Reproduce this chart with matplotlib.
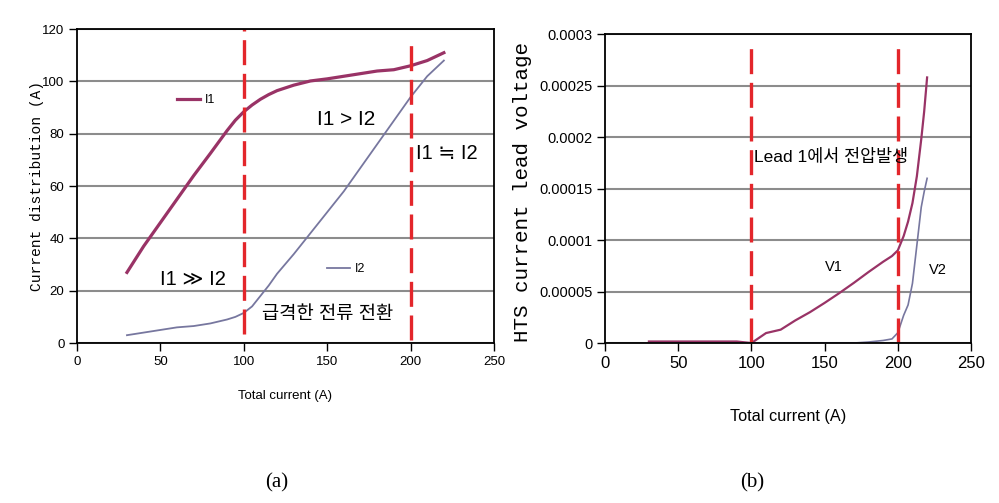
import numpy as np
import matplotlib
matplotlib.use('Agg')
import matplotlib.pyplot as plt

# (a) current distribution
xI = [30, 40, 50, 60, 70, 80, 90, 95, 100, 105, 110, 115, 120, 130, 140, 150, 160, 170, 180, 190, 200, 210, 220]
I1 = [27, 37, 46, 55, 64, 72.5, 81.2, 85.2, 88.4, 91, 93.2, 95, 96.5, 98.6, 100.2, 101, 102, 103, 104, 104.5, 106, 108, 111]
I2 = [3, 4, 5, 6, 6.5, 7.5, 9, 10, 11.5, 14, 18, 22, 26.5, 34, 42, 50, 58, 67, 76, 85, 94, 102, 108]

# (b) lead voltage
xV = [30, 50, 70, 90, 100, 110, 120, 130, 140, 150, 160, 170, 180, 190, 196, 200, 204, 207, 210, 213, 216, 218, 220]
V1 = [1.5e-6, 1.5e-6, 1.5e-6, 1.5e-6, 0, 9.7e-6, 1.3e-5, 2.2e-5, 3.0e-5, 3.9e-5, 4.85e-5, 5.85e-5, 6.9e-5, 7.9e-5,
      8.45e-5, 9.0e-5, 1.04e-4, 1.18e-4, 1.36e-4, 1.62e-4, 1.98e-4, 2.25e-4, 2.58e-4]
V2 = [0, 0, 0, 0, 0, 0, 0, 0, 0, 0, 0, 0, 1e-6, 2.5e-6,
      4e-6, 1.0e-5, 2.7e-5, 3.7e-5, 5.8e-5, 9.5e-5, 1.32e-4, 1.47e-4, 1.6e-4]

xticks = [0, 50, 100, 150, 200, 250]
yticksA = [0, 20, 40, 60, 80, 100, 120]
yticksB = [0, 0.00005, 0.0001, 0.00015, 0.0002, 0.00025, 0.0003]
yticklabelsB = ['0', '0.00005', '0.0001', '0.00015', '0.0002', '0.00025', '0.0003']
switch_points = [100, 200]

SANS = ['Liberation Sans', 'DejaVu Sans']
SANS_KR = ['Liberation Sans', 'Noto Sans CJK KR', 'DejaVu Sans']
MONO = ['Liberation Mono', 'DejaVu Sans Mono']
SERIF = ['Liberation Serif', 'DejaVu Serif']
c1 = '#993366'
c2 = '#77779f'
red = '#e3262b'
dash = (7.5, 2.6)

fig = plt.figure(figsize=(9.99, 5.03), dpi=100)
axA = fig.add_axes([0.077, 0.318, 0.4174, 0.624])
axB = fig.add_axes([0.6056, 0.318, 0.3664, 0.614])


def style_axes(ax, tick_size):
    for s in ax.spines.values():
        s.set_color('black')
        s.set_linewidth(1.3)
    ax.tick_params(direction='out', length=6, width=1, colors='black', pad=3)
    for lab in ax.get_xticklabels() + ax.get_yticklabels():
        lab.set_family(SANS)
        lab.set_fontsize(tick_size)
    ax.yaxis.grid(True, color='#8c8c8c', linewidth=1.5)
    ax.set_axisbelow(True)


# ---- panel (a)
lineI1, = axA.plot(xI, I1, color=c1, lw=2.3)
lineI2, = axA.plot(xI, I2, color=c2, lw=1.3)
axA.axvline(switch_points[0], ymin=0.03, ymax=1.0, color=red, lw=2.4, dashes=dash)
axA.axvline(switch_points[1], ymin=0.01, ymax=0.975, color=red, lw=2.4, dashes=dash)
axA.set_xlim(0, 250)
axA.set_ylim(0, 120)
axA.set_xticks(xticks)
axA.set_yticks(yticksA)
style_axes(axA, 9.5)
axA.set_xlabel('Total current (A)', family=SANS, fontsize=9.5, va='center')
axA.xaxis.set_label_coords(0.499, -0.169)
axA.set_ylabel('Current distribution (A)', family=MONO, fontsize=10.5, va='center')
axA.yaxis.set_label_coords(-0.096, 0.5)

legA1 = axA.legend([lineI1], ['I1'], loc=(0.24, 0.755), frameon=False, handlelength=1.85,
                   handletextpad=0.4, borderpad=0, borderaxespad=0, prop={'family': SANS, 'size': 9})
axA.add_artist(legA1)
axA.legend([lineI2], ['I2'], loc=(0.6, 0.217), frameon=False, handlelength=1.85,
           handletextpad=0.4, borderpad=0, borderaxespad=0, prop={'family': SANS, 'size': 9})

axA.text(144, 85.3, 'I1 > I2', family=SANS, fontsize=15, va='center', ha='left')
axA.text(203.5, 72.5, 'I1 \u2252 I2', family=SANS, fontsize=14.5, va='center', ha='left')
axA.text(50, 24.2, 'I1 \u226b I2', family=SANS, fontsize=14.5, va='center', ha='left')
axA.text(111, 10.8, '급격한 전류 전환', family=SANS_KR, fontsize=13.5, va='center', ha='left')

# ---- panel (b)
axB.plot(xV, V1, color=c1, lw=1.6)
axB.plot(xV, V2, color=c2, lw=1.2)
axB.axvline(switch_points[0], ymin=0.0, ymax=0.975, color=red, lw=2.4, dashes=dash)
axB.axvline(switch_points[1], ymin=0.0, ymax=0.975, color=red, lw=2.4, dashes=dash)
axB.set_xlim(0, 250)
axB.set_ylim(0, 0.0003)
axB.set_xticks(xticks)
axB.set_yticks(yticksB)
axB.set_yticklabels(yticklabelsB)
style_axes(axB, 10.5)
for lab in axB.get_xticklabels():
    lab.set_fontsize(12)
axB.set_xlabel('Total current (A)', family=SANS, fontsize=11.7, va='center')
axB.xaxis.set_label_coords(0.5, -0.239)
axB.set_ylabel('HTS current lead voltage', family=MONO, fontsize=15, va='center')
axB.yaxis.set_label_coords(-0.225, 0.49)

axB.text(101.5, 1.81e-4, 'Lead 1에서 전압발생', family=SANS_KR, fontsize=12.5, va='center', ha='left')
axB.text(150.5, 7.4e-5, 'V1', family=SANS, fontsize=10.5, va='center', ha='left')
axB.text(221, 7.1e-5, 'V2', family=SANS, fontsize=10.5, va='center', ha='left')

# captions
fig.text(0.277, 0.04, '(a)', family=SERIF, fontsize=15, ha='center', va='center')
fig.text(0.753, 0.04, '(b)', family=SERIF, fontsize=15, ha='center', va='center')

fig.savefig('out.png', dpi=100)
